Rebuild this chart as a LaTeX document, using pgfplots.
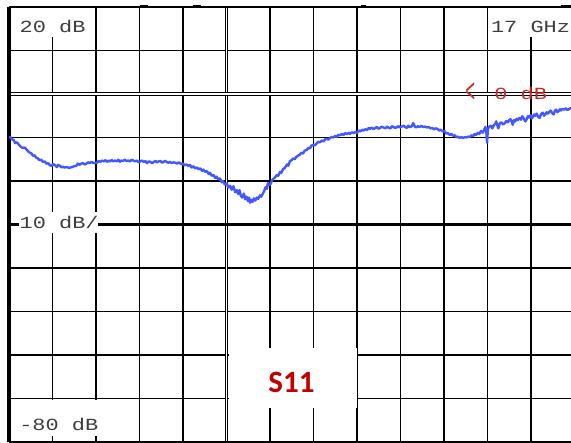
\documentclass[border=0pt]{standalone}
\usepackage{fontspec}
\usepackage{graphicx}
\usepackage{pgfplots}
\pgfplotsset{compat=1.18}
\newfontfamily\scrfont[FakeStretch=1.29]{Liberation Mono}
\newfontfamily\sfb{Carlito}
\definecolor{trace}{RGB}{68,88,255}
\definecolor{scrtext}{RGB}{62,62,62}
\definecolor{mkred}{RGB}{205,40,40}
\definecolor{sred}{RGB}{192,0,0}
\pgfplotstableread{
x y
0.00 -9.9
0.04 -10.0
0.07 -10.4
0.11 -10.6
0.14 -11.3
0.18 -11.1
0.23 -11.7
0.28 -12.2
0.32 -12.4
0.36 -12.3
0.40 -12.7
0.44 -13.2
0.48 -13.5
0.52 -13.7
0.55 -14.2
0.59 -14.1
0.62 -14.6
0.66 -14.8
0.70 -15.2
0.74 -15.1
0.78 -15.6
0.82 -15.5
0.86 -16.0
0.90 -15.9
0.94 -16.4
0.98 -16.5
1.02 -16.1
1.06 -16.4
1.10 -16.8
1.13 -16.3
1.17 -16.5
1.21 -16.9
1.24 -16.7
1.28 -16.9
1.33 -16.8
1.38 -17.0
1.45 -16.8
1.50 -16.6
1.55 -16.5
1.58 -16.0
1.62 -16.3
1.66 -16.0
1.70 -15.9
1.74 -16.2
1.78 -16.0
1.82 -15.7
1.86 -15.9
1.90 -15.6
1.95 -15.9
2.02 -15.8
2.06 -15.4
2.10 -15.6
2.14 -15.3
2.18 -15.5
2.22 -15.2
2.25 -15.6
2.29 -15.3
2.32 -15.5
2.36 -15.2
2.40 -15.5
2.44 -15.3
2.48 -15.5
2.51 -15.1
2.55 -15.6
2.58 -15.3
2.62 -15.4
2.66 -15.1
2.70 -15.4
2.74 -15.3
2.78 -15.5
2.82 -15.1
2.86 -15.3
2.90 -15.5
2.94 -15.3
2.98 -15.7
3.02 -15.5
3.06 -15.3
3.10 -15.6
3.14 -15.4
3.17 -15.9
3.21 -15.5
3.25 -15.6
3.29 -15.9
3.33 -15.6
3.37 -15.4
3.40 -15.7
3.44 -15.5
3.48 -15.4
3.52 -15.8
3.55 -15.6
3.59 -15.4
3.62 -15.6
3.66 -15.8
3.70 -15.6
3.74 -15.9
3.78 -15.7
3.82 -15.8
3.86 -16.0
3.90 -15.7
3.93 -15.9
3.97 -16.1
4.00 -16.0
4.04 -16.4
4.08 -16.2
4.12 -16.5
4.16 -16.3
4.20 -16.9
4.24 -16.6
4.28 -17.1
4.32 -16.9
4.36 -17.3
4.40 -17.1
4.44 -17.7
4.47 -17.4
4.51 -17.9
4.55 -17.7
4.59 -18.4
4.62 -18.1
4.66 -18.8
4.70 -18.6
4.74 -19.3
4.77 -19.0
4.81 -19.6
4.85 -19.4
4.89 -20.3
4.92 -20.0
4.96 -20.8
5.01 -20.6
5.04 -21.5
5.08 -21.1
5.12 -22.0
5.16 -21.2
5.20 -22.6
5.24 -22.1
5.27 -23.0
5.30 -22.1
5.33 -23.4
5.36 -23.8
5.40 -22.9
5.43 -24.2
5.46 -23.6
5.49 -24.6
5.52 -23.8
5.54 -25.0
5.57 -24.3
5.60 -24.8
5.63 -24.0
5.66 -24.5
5.70 -23.8
5.73 -24.1
5.77 -23.3
5.80 -23.6
5.84 -22.8
5.87 -22.2
5.90 -21.4
5.93 -21.8
5.95 -20.5
5.99 -20.9
6.02 -20.6
6.05 -19.8
6.08 -19.5
6.12 -19.1
6.16 -18.6
6.19 -18.8
6.23 -17.9
6.26 -18.1
6.30 -17.3
6.34 -17.0
6.39 -16.2
6.42 -16.5
6.46 -15.4
6.50 -15.2
6.53 -14.8
6.57 -15.0
6.60 -14.5
6.64 -14.2
6.68 -14.0
6.72 -13.5
6.76 -13.7
6.80 -13.0
6.84 -12.9
6.88 -12.4
6.92 -12.5
6.95 -11.9
6.99 -11.7
7.03 -11.8
7.07 -11.4
7.11 -11.0
7.15 -11.1
7.19 -10.7
7.23 -10.9
7.27 -10.4
7.31 -10.3
7.34 -10.5
7.38 -10.1
7.42 -9.9
7.46 -10.0
7.50 -9.6
7.53 -9.9
7.57 -9.4
7.61 -9.5
7.65 -9.2
7.69 -9.4
7.73 -9.0
7.77 -9.2
7.81 -8.9
7.84 -9.2
7.88 -8.8
7.92 -9.0
7.96 -8.7
8.00 -9.0
8.04 -8.4
8.08 -8.6
8.12 -8.2
8.15 -8.4
8.19 -8.1
8.23 -8.3
8.27 -7.8
8.30 -8.0
8.34 -7.7
8.38 -8.1
8.42 -7.8
8.46 -7.6
8.50 -8.0
8.53 -7.8
8.57 -7.5
8.61 -7.7
8.65 -7.9
8.69 -7.5
8.73 -7.8
8.77 -7.9
8.80 -7.4
8.84 -7.6
8.88 -7.8
8.92 -7.6
8.96 -7.4
8.99 -7.7
9.03 -7.5
9.07 -7.3
9.11 -7.6
9.15 -7.8
9.18 -7.3
9.22 -7.6
9.26 -7.4
9.29 -6.7
9.33 -7.5
9.36 -7.7
9.40 -7.4
9.44 -7.6
9.48 -7.3
9.52 -7.6
9.56 -7.5
9.61 -7.7
9.65 -7.6
9.69 -7.9
9.73 -7.8
9.77 -8.1
9.81 -7.9
9.85 -8.0
9.89 -8.4
9.93 -8.2
9.97 -8.6
10.01 -8.5
10.05 -9.1
10.09 -9.0
10.13 -9.4
10.17 -9.2
10.21 -9.6
10.25 -9.5
10.29 -10.0
10.32 -9.8
10.36 -10.1
10.40 -9.9
10.44 -10.1
10.48 -9.9
10.52 -10.0
10.55 -9.8
10.59 -9.9
10.63 -9.5
10.67 -9.7
10.70 -9.2
10.74 -9.4
10.78 -8.9
10.81 -9.2
10.85 -8.5
10.89 -8.9
10.92 -8.3
10.95 -7.6
10.97 -8.2
10.99 -11.2
11.01 -8.0
11.04 -7.5
11.08 -7.3
11.11 -7.9
11.15 -7.1
11.18 -6.9
11.20 -6.3
11.23 -7.3
11.25 -7.9
11.28 -6.8
11.32 -6.5
11.36 -7.0
11.40 -6.7
11.43 -6.2
11.47 -6.5
11.50 -6.0
11.53 -5.8
11.56 -6.4
11.58 -7.1
11.61 -6.0
11.64 -6.3
11.67 -5.7
11.70 -6.0
11.73 -5.5
11.77 -5.9
11.80 -5.1
11.83 -5.6
11.87 -6.3
11.90 -5.8
11.93 -5.1
11.96 -5.4
11.99 -4.9
12.02 -5.6
12.05 -5.2
12.07 -4.7
12.10 -5.0
12.13 -4.5
12.16 -5.2
12.20 -5.5
12.23 -4.6
12.27 -4.3
12.30 -5.0
12.33 -4.7
12.36 -4.2
12.39 -4.5
12.42 -4.1
12.45 -3.8
12.49 -4.4
12.52 -4.7
12.55 -3.9
12.58 -3.6
12.61 -4.2
12.64 -3.9
12.67 -3.5
12.69 -3.8
12.73 -3.4
12.76 -3.6
12.80 -3.3
12.84 -3.7
12.88 -3.4
12.92 -3.2
}\sone
\begin{document}
\begin{tikzpicture}
\begin{axis}[
  scale only axis, width=562bp, height=435bp,
  xmin=0, xmax=12.92, ymin=-80, ymax=20,
  clip=false,
  axis line style={draw=none},
  xtick={1,2,3,4,6,7,8,9,11,12},
  ytick={-70,-60,-50,-40,-20,-10,10},
  xticklabels={}, yticklabels={},
  major tick length=0pt,
  grid=major,
  grid style={black, line width=1.1bp},
  extra x ticks={5}, extra y ticks={0},
  extra x tick labels={}, extra y tick labels={},
  extra tick style={grid style={black, double=white, double distance=1.2bp, line width=1bp}},
]
\coordinate (SW) at (rel axis cs:0,0);
\coordinate (NE) at (rel axis cs:1,1);
% special grid lines
\draw[black, line width=2.2bp] (axis cs:0,-30) -- (axis cs:12.92,-30);
\draw[black, line width=1.6bp] (axis cs:10,-80) -- (axis cs:10,20);
% white annotation boxes
\fill[white] (axis cs:0.023,19.77) rectangle (axis cs:1.774,13.10);
\fill[white] (axis cs:11.08,19.77) rectangle (axis cs:12.92,13.10);
\fill[white] (axis cs:0.230,-27.13) rectangle (axis cs:2.05,-31.95);
\fill[white] (axis cs:0.023,-70.34) rectangle (axis cs:2.05,-78.62);
\fill[white] (axis cs:5.067,-58.39) rectangle (axis cs:7.99,-72.18);
% borders
\draw[black, line width=3bp] (axis cs:0,-80) -- (axis cs:0,20);
\draw[black, line width=1.2bp] (axis cs:0,20) -- (axis cs:12.92,20);
\draw[black, line width=1.8bp] (axis cs:0,-80) -- (axis cs:12.92,-80);
\draw[black, line width=2.5bp] ([yshift=0.8bp]axis cs:3.02,20) -- ([yshift=0.8bp]axis cs:3.20,20);
\draw[black, line width=2.5bp] ([yshift=0.8bp]axis cs:4.22,20) -- ([yshift=0.8bp]axis cs:4.42,20);
\draw[black, line width=2bp] ([yshift=0.6bp]axis cs:8.10,20) -- ([yshift=0.6bp]axis cs:8.20,20);
\draw[black, line width=2.5bp] ([yshift=0.8bp]axis cs:12.70,20) -- ([yshift=0.8bp]axis cs:12.92,20);
% texts
\node[anchor=base, inner sep=0pt, text=scrtext, font=\scrfont\fontsize{17bp}{20bp}\selectfont] at (axis cs:1.002,14.25) {20 dB};
\node[anchor=base, inner sep=0pt, text=scrtext, font=\scrfont\fontsize{17bp}{20bp}\selectfont] at (axis cs:11.99,14.25) {17 GHz};
\node[anchor=base, inner sep=0pt, text=scrtext, font=\scrfont\fontsize{17bp}{20bp}\selectfont] at (axis cs:1.152,-31.03) {10 dB/};
\node[anchor=base, inner sep=0pt, text=scrtext, font=\scrfont\fontsize{17bp}{20bp}\selectfont] at (axis cs:1.145,-77.47) {-80 dB};
\node[anchor=base, inner sep=0pt, text=mkred, font=\scrfont\fontsize{17bp}{20bp}\selectfont] at (axis cs:11.43,-1.38) {\raisebox{-2.6bp}{\scalebox{0.75}[2.0]{<}}\hspace{6bp} 0 dB};
\node[anchor=base, inner sep=0pt, text=sred, font=\sfb\bfseries\fontsize{31bp}{34bp}\selectfont] at (axis cs:6.495,-68.51) {S11};
% trace
\addplot[trace, line width=2.4bp, line join=round, no marks] table[x=x, y=y] {\sone};
\end{axis}
\pgfresetboundingbox
\path[use as bounding box] ([xshift=-9bp,yshift=-1bp]SW) rectangle ([yshift=7bp]NE);
\end{tikzpicture}
\end{document}
